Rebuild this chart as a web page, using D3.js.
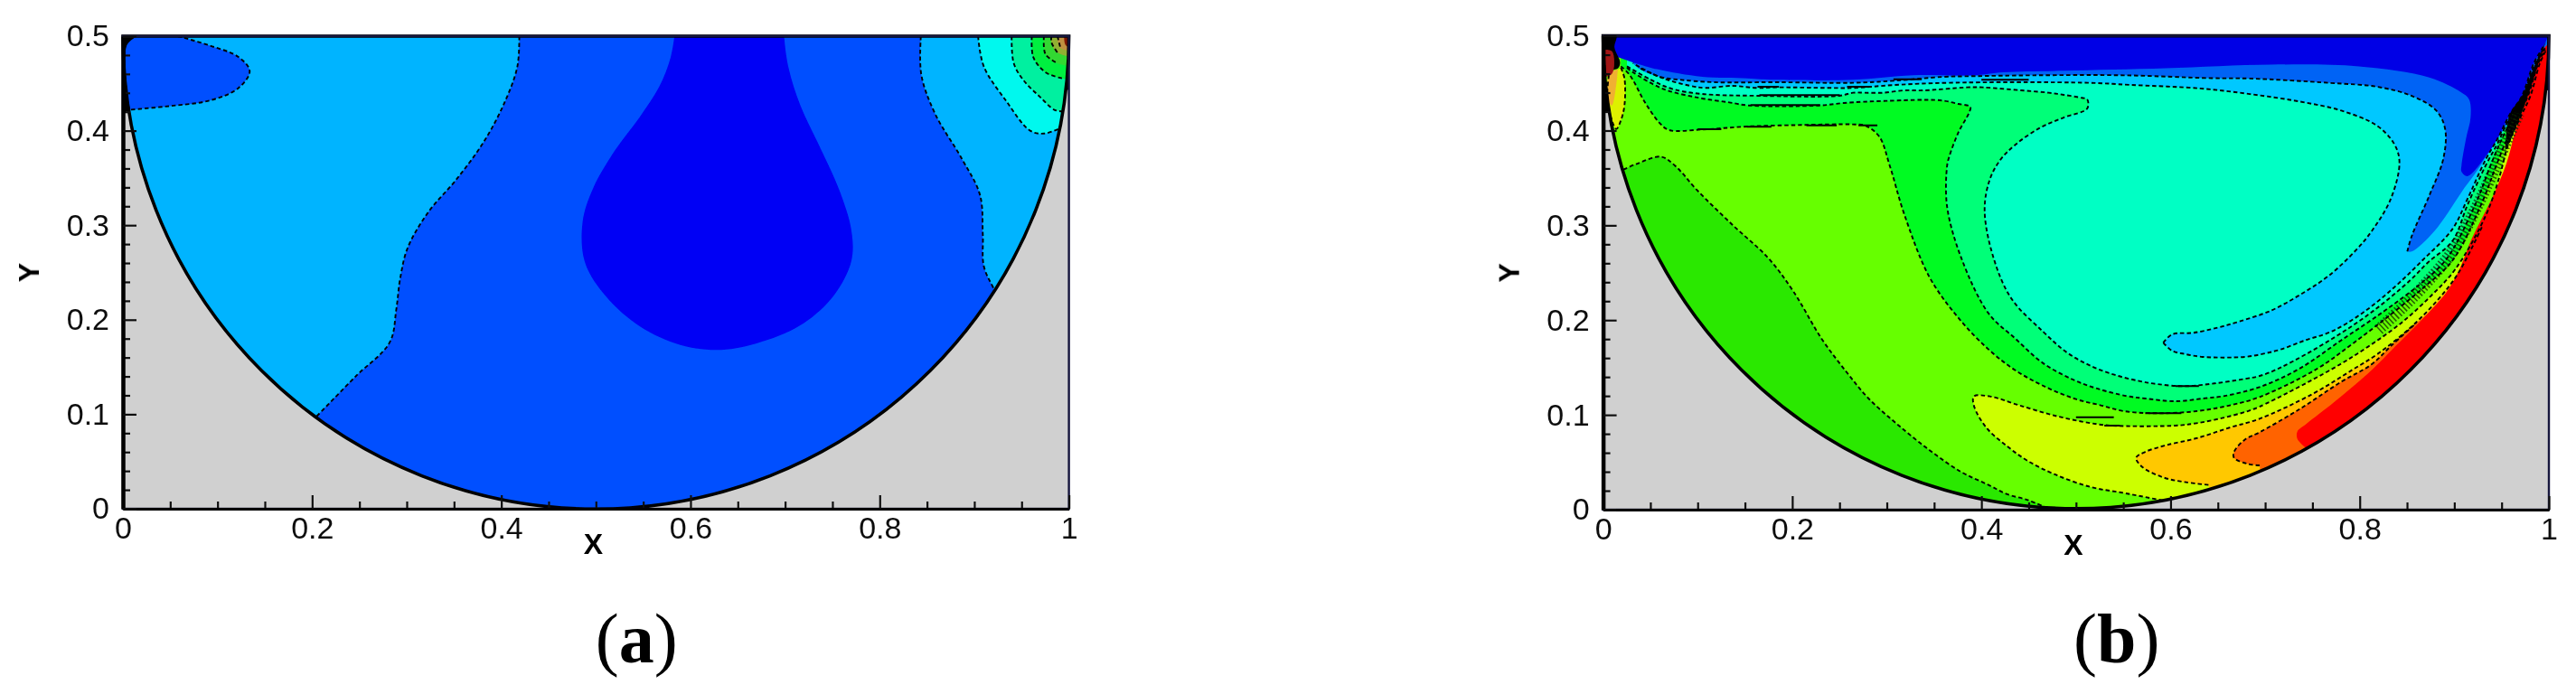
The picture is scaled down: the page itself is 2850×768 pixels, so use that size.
<!DOCTYPE html>
<html lang="en">
<head>
  <meta charset="UTF-8">
  <title>Contours</title>
  <style>
    html, body { margin: 0; background: #fff; }
    svg { display: block; }
    text { font-family: "Liberation Sans", sans-serif; }
  </style>
</head>
<body>
  <script src="https://d3js.org/d3.v7.min.js"></script>
  <script>
    const xTicks = [0, 0.2, 0.4, 0.6, 0.8, 1]
    const yTicks = [0, 0.1, 0.2, 0.3, 0.4, 0.5]
    const xMinor = [0.05, 0.1, 0.15, 0.25, 0.3, 0.35, 0.45, 0.5, 0.55, 0.65, 0.7, 0.75, 0.85, 0.9, 0.95]
    const yMinor = [0.02, 0.04, 0.06, 0.08, 0.12, 0.14, 0.16, 0.18, 0.22, 0.24, 0.26, 0.28, 0.32, 0.34, 0.36, 0.38, 0.42, 0.44, 0.46, 0.48]

    // panel (a) contours in x/y units
    const aLeftBlue = [[.419, .5], [.417, .468], [.404, .431], [.382, .389], [.353, .349], [.323, .314], [.301, .276], [.293, .243], [.289, .211], [.282, .176], [.246, .14], [.205, .098]]
    const aEllipse = [[.058, .5], [.092, .49], [.122, .478], [.134, .463], [.122, .445], [.092, .432], [.049, .426], [.006, .422]]
    const aDrop = [[.583, .5], [.579, .4775], [.567, .4466], [.546, .414], [.52, .379], [.497, .339], [.486, .304], [.488, .262], [.507, .229], [.542, .196], [.584, .175], [.627, .168], [.67, .175], [.716, .194], [.751, .225], [.77, .262], [.77, .295], [.757, .338], [.738, .38], [.716, .427], [.704, .465], [.699, .5]]
    const aRightBlue = [[.8435, .5], [.844, .459], [.859, .417], [.887, .37], [.906, .332], [.909, .29], [.91, .257], [.92, .234], [.94, .2]]
    const aCyan = [[.904, .5], [.91, .468], [.934, .431], [.959, .4], [.974, .397], [.9915, .403]]
    const aSea = [[.9395, .5], [.9417, .4713], [.9529, .4522], [.9688, .4363], [.9847, .422], [.9927, .4204]]
    const aGreen = [[.9608, .5], [.9624, .4777], [.9752, .4618], [.9927, .4554]]
    const aGreen2 = [[.9736, .5], [.9752, .4809], [.9879, .4713]]
    const aLime = [[.9815, .5], [.9815, .4936], [.9879, .4825]]
    const aOrange = [[.9879, .5], [.9911, .4873]]
    const aRed = [[.995, .5], [.997, .49]]
    const aCorner = [[0, .5], [.013, .5], [.004, .49], [.0045, .44], [.0065, .42], [0, .42]]
    const aWallLeft = [[0, .5], [.015, .5], [.015, .42], [0, .42]]
    const aWallRight = [[.985, .5], [1, .5], [1, .443], [.985, .443]]

    // panel (b) contours
    const bLime = [[.0216, .3588], [.0348, .3646], [.0612, .3724], [.0764, .3626], [.0991, .3374], [.1369, .3004], [.1747, .2654], [.2011, .2304], [.2314, .1798], [.2578, .1447], [.2805, .1175], [.3108, .0903], [.3448, .063], [.3788, .0397], [.4075, .0261], [.4266, .0165], [.4489, .0102], [.468, .0022]]
    const bYellow = [[.62, .004], [.5732, .0133], [.5477, .0181], [.5158, .0238], [.4776, .0372], [.4489, .0515], [.4266, .0674], [.4053, .0864], [.3921, .1097], [.3921, .1195], [.4091, .1195], [.4394, .1103], [.4776, .0992], [.5158, .0912], [.5381, .0887], [.605, .0887], [.6273, .0912], [.6544, .0966], [.6815, .1039], [.6942, .1087], [.7707, .1484], [.8089, .172], [.8439, .197], [.8758, .226], [.9013, .254], [.9331, .31], [.9474, .35], [.957, .3852], [.9697, .4138], [.9803, .4361], [.9905, .4711], [.9965, .4838]]
    const bGold = [[.6401, .0261], [.6146, .0292], [.5923, .034], [.57, .0451], [.5636, .0547], [.5732, .061], [.5954, .068], [.6273, .0753], [.6623, .0865], [.6942, .096], [.75, .122], [.793, .148], [.8185, .164], [.8535, .192], [.8822, .221], [.9045, .25], [.93, .3]]
    const bOrange = [[.6942, .0467], [.6815, .0483], [.6671, .0547], [.6672, .0611], [.6783, .0737], [.6942, .0817], [.736, .1058], [.7806, .135], [.8121, .153], [.8344, .174], [.8599, .197]]
    const bRed = [[.7434, .065], [.7341, .0747], [.7341, .0825], [.7434, .0903], [.7732, .1136], [.8121, .1469], [.8344, .1691], [.8662, .2009], [.8917, .2295], [.9045, .2517], [.9188, .2867], [.9395, .328], [.9554, .3662], [.965, .4011], [.9809, .4456], [.9936, .4854]]
    const bGreen = [[.0188, .4678], [.0284, .4583], [.0443, .4297], [.0602, .4075], [.0698, .4005], [.1048, .4011], [.1526, .4043], [.2099, .4059], [.2641, .4065], [.2767, .4054], [.2919, .3938], [.3032, .3626], [.3183, .3121], [.3448, .2459], [.375, .2031], [.4075, .1691], [.4362, .1468], [.468, .1294], [.4999, .1166], [.5254, .1103], [.5509, .1039], [.5891, .1017], [.6273, .1039], [.6592, .1093], [.6942, .1189], [.7547, .1485], [.793, .1755], [.8344, .2072], [.8694, .2359], [.8981, .2629], [.9283, .3217], [.9443, .363], [.9538, .3868], [.9666, .4138], [.9777, .4361], [.9889, .4711], [.9962, .4854]]
    const bSea = [[.0252, .4663], [.0316, .4615], [.0634, .444], [.1016, .4345], [.1335, .4297], [.1542, .4265], [.2291, .4265], [.2546, .4291], [.2991, .4313], [.3565, .4319], [.3756, .4281], [.3883, .4249], [.3868, .4186], [.3756, .3979], [.366, .3725], [.3637, .3626], [.3637, .3198], [.3788, .2654], [.4075, .2072], [.4362, .1802], [.4648, .1548], [.4967, .1373], [.5222, .1278], [.554, .1198], [.5732, .1173], [.605, .1144], [.6369, .1176], [.656, .1198], [.6942, .1294], [.7356, .1484], [.7802, .1786], [.8248, .2088], [.8631, .2374], [.8917, .2645], [.922, .3217], [.9395, .3662], [.949, .3884], [.9618, .4138], [.9745, .4361], [.9873, .4711], [.9959, .4869]]
    const bAqua = [[.0252, .4678], [.0507, .4535], [.073, .444], [.1048, .4386], [.1638, .4367], [.2498, .4367], [.2641, .4399], [.2768, .4399], [.296, .4399], [.3183, .4424], [.339, .4424], [.3852, .4456], [.4011, .4456], [.4425, .4424], [.4712, .4399], [.4871, .4377], [.5062, .4345], [.5119, .4329], [.5119, .4233], [.4871, .4138], [.4616, .4027], [.4361, .3852], [.4202, .3693], [.409, .3487], [.4034, .316], [.4129, .2654], [.4318, .2226], [.4648, .1882], [.4903, .1659], [.5158, .1516], [.5413, .1421], [.5668, .1357], [.5859, .1325], [.6146, .1303], [.6464, .1332], [.6783, .138], [.6942, .1411], [.7165, .15], [.7707, .1802], [.8153, .2104], [.8535, .2422], [.8726, .2613], [.8981, .2835], [.914, .3217], [.9331, .363], [.9459, .3868], [.9586, .4138], [.9713, .4329], [.9841, .4679], [.9952, .4869]]
    const bSkyLower = [[.5923, .1761], [.6018, .1675], [.6146, .1643], [.6337, .1612], [.6783, .1612], [.6974, .1643], [.7165, .1691], [.742, .1786], [.7707, .1882], [.8025, .2072], [.8344, .2327], [.8662, .2629], [.8981, .2962], [.914, .328], [.9331, .3693], [.9459, .3916], [.9586, .417], [.9713, .4361], [.9841, .4711], [.9952, .4901]]
    const bSkyInner = [[.5923, .1761], [.6018, .185], [.6241, .1866], [.6496, .192], [.6719, .1983], [.707, .2104], [.7388, .2279], [.7675, .247], [.7962, .274], [.8121, .2931], [.8327, .3276], [.842, .3665], [.8364, .386], [.8178, .4054], [.7806, .421], [.736, .4307], [.6839, .4385], [.6318, .4444], [.5575, .4482], [.5126, .4504], [.366, .4504], [.3087, .4481], [.2641, .445], [.2386, .445], [.1845, .4456], [.1622, .445], [.1367, .4472], [.108, .445], [.0921, .4472], [.0634, .4551], [.0379, .4663]]
    const bBlueLower = [[.8503, .2724], [.8551, .2724], [.879, .294], [.9076, .335], [.9331, .372]]
    const bBlueInner = [[.8503, .2724], [.855, .2887], [.8736, .3315], [.8884, .3704], [.8903, .4016], [.881, .421], [.855, .4366], [.8178, .4463], [.7694, .4502], [.6839, .4549], [.643, .4553], [.5508, .4583], [.4552, .4583], [.3915, .4574], [.3597, .4567], [.3087, .4526], [.2641, .4504], [.1845, .451], [.1176, .451], [.0825, .4535], [.0602, .4567], [.0316, .471]]
    const bNavy = [[.0252, .4742], [.057, .4647], [.1048, .4567], [.1526, .4551], [.1813, .4535], [.2641, .4535], [.3278, .4583], [.3915, .4583], [.4234, .4615], [.4871, .4631], [.5947, .4658], [.7062, .4696], [.7992, .4677], [.8736, .456], [.907, .4405], [.9156, .4329], [.9172, .4138], [.9124, .3916], [.9076, .363], [.9076, .3566], [.914, .3519], [.9331, .3725], [.9459, .3916], [.9586, .417], [.9713, .4361], [.9841, .4711], [.9952, .4901]]
    const bBlack = [[.9538, .3789], [.9586, .417], [.9713, .4361], [.9873, .4742], [.9968, .4933], [.9936, .4854], [.9809, .4456], [.9682, .4107], [.9586, .3884]]
    const bCornerBlack = [[0, .5], [.014, .5], [.012, .488], [.018, .472], [.016, .466], [.0061, .462], [.001, .45]]
    const bCornerYellow = [[.0188, .4663], [.0226, .4551], [.0226, .4265], [.0188, .4106], [.014, .4017], [.0093, .4106], [.0045, .4361], [.0061, .4583]]
    const bCornerGold = [[.0156, .4647], [.014, .4488], [.0093, .4265], [.0061, .4297], [.0045, .4519], [.0061, .4615]]
    const bCornerRed = [[.0013, .4853], [.0093, .4837], [.0118, .471], [.0093, .4599], [.0029, .4567]]
    const bWallLeft = [[0, .5], [.015, .5], [.015, .42], [0, .42]]
    const bWallRight = [[.985, .5], [1, .5], [1, .4425], [.985, .4425]]
    // middle of the packed band by the red edge, where the lines alias into cross bars
    const bHatch = [[.82, .19], [.8444, .2125], [.8662, .2345], [.8981, .2725], [.925, .322], [.9443, .364], [.957, .393], [.968, .418]]
    // long horizontal stretches where the thin lines look solid: x1, x2, y
    const bStripes = [[.1558, .2295, .4268], [.1652, .2503, .4374], [.1, .125, .4015], [.152, .178, .404], [.215, .247, .4055], [.27, .29, .4054], [.1633, .186, .4463], [.258, .284, .4463], [.307, .337, .4541], [.4, .45, .4535], [.5732, .6114, .1017], [.53, .546, .0887], [.605, .63, .1303], [.5, .54, .0975]]

    const width = 2850
    const height = 768
    const gray = '#d0d0d0'

    const svg = d3.select('body').append('svg')
      .attr('width', width)
      .attr('height', height)

    const defs = svg.append('defs')
    defs.append('filter').attr('id', 'soft')
      .append('feGaussianBlur').attr('stdDeviation', 0.7)

    const far = 1.02
    const panels = [
      {
        id: 'a', letter: 'a', xRange: [136, 1182.6], yRange: [563, 40],
        walls: [aWallLeft, aWallRight],
        base: '#0050ff',
        layers: [
          { pts: aLeftBlue.concat([[.1, -.02], [-.02, -.02], [-.02, .52], [.419, .52]]), fill: '#00b4ff' },
          { pts: aEllipse.concat([[-.02, .42], [-.02, .52], [.058, .52]]), fill: '#0050ff' },
          { pts: aDrop.concat([[.699, .52], [.583, .52]]), fill: '#0000f5' },
          { pts: aRightBlue.concat([[far, .2], [far, .52], [.8435, .52]]), fill: '#00b4ff' },
          { pts: aCyan.concat([[far, .41], [far, .52], [.904, .52]]), fill: '#00f8ee' },
          { pts: aSea.concat([[far, .42], [far, .52], [.9395, .52]]), fill: '#00f0a0' },
          { pts: aGreen.concat([[far, .455], [far, .52], [.9608, .52]]), fill: '#00f040' },
          { pts: aGreen2.concat([[far, .47], [far, .52], [.9736, .52]]), fill: '#30d830' },
          { pts: aLime.concat([[far, .48], [far, .52], [.9815, .52]]), fill: '#90b030' },
          { pts: aOrange.concat([[far, .487], [far, .52], [.9879, .52]]), fill: '#c09040' },
          { pts: aRed.concat([[far, .49], [far, .52], [.995, .52]]), fill: '#801800' },
          { pts: aCorner, fill: '#000' }
        ],
        lines: [aLeftBlue, aEllipse, aRightBlue, aCyan, aSea, aGreen, aGreen2, aLime, aOrange],
        hatch: [],
        stripes: []
      },
      {
        id: 'b', letter: 'b', xRange: [1773.6, 2820], yRange: [564, 39.6],
        walls: [bWallLeft, bWallRight],
        base: '#2ae800',
        layers: [
          { pts: bLime.concat([[.48, -.02], [far, -.02], [far, .52], [-.02, .52], [-.02, .35]]), fill: '#66ff00' },
          { pts: bYellow.concat([[far, .49], [far, -.02], [.62, -.02]]), fill: '#ccff00' },
          { pts: bGold.concat([[far, .49], [far, -.02], [.65, -.02]]), fill: '#ffc800' },
          { pts: bOrange.concat([[far, .3], [far, -.02], [.7, -.02]]), fill: '#ff6400' },
          { pts: bGreen.concat([[1, .52], [.0188, .52]]), fill: '#00fb20' },
          { pts: bSea.concat([[1, .52], [.0252, .52]]), fill: '#00ff78' },
          { pts: bAqua.concat([[1, .52], [.0252, .52]]), fill: '#00ffc4' },
          { pts: bSkyLower.concat([[1, .52], [.02, .52]], bSkyInner.slice().reverse()), fill: '#00c8ff' },
          { pts: bBlueLower.concat([[1, .52], [.02, .52]], bBlueInner.slice().reverse()), fill: '#0064f5' },
          { pts: bNavy.concat([[1, .52], [-.02, .52], [-.02, .49]]), fill: '#0000e6' },
          { pts: bRed.concat([[far, .5], [far, -.02], [.74, -.02]]), fill: '#ff0000' },
          { pts: bBlack, fill: '#000' },
          { pts: bCornerBlack, fill: '#000' },
          { pts: bCornerYellow, fill: '#ddf000' },
          { pts: bCornerGold, fill: '#f0b030' },
          { pts: bCornerRed, fill: '#a01818' }
        ],
        lines: [bLime, bYellow, bGold, bOrange, bGreen, bSea, bAqua, bSkyLower, bSkyInner, bBlueInner, bCornerYellow],
        hatch: [bHatch],
        stripes: bStripes
      }
    ]

    panels.forEach(p => {
      const x = d3.scaleLinear().domain([0, 1]).range(p.xRange)
      const y = d3.scaleLinear().domain([0, 0.5]).range(p.yRange)

      const g = svg.append('g').attr('filter', 'url(#soft)')

      const smooth = d3.line()
        .x(d => x(d[0]))
        .y(d => y(d[1]))
        .curve(d3.curveCatmullRom.alpha(0.5))
      const straight = d3.line()
        .x(d => x(d[0]))
        .y(d => y(d[1]))

      g.append('rect')
        .attr('x', x(0))
        .attr('y', y(0.5))
        .attr('width', x(1) - x(0))
        .attr('height', y(0) - y(0.5))
        .attr('fill', gray)

      g.selectAll('path.wall')
        .data(p.walls)
        .join('path')
        .attr('class', 'wall')
        .attr('d', d => straight(d) + 'Z')
        .attr('fill', '#000')

      // the half circle is the flow domain, everything is clipped to it
      const halfCircle = d3.arc()
        .innerRadius(0)
        .outerRadius(x(0.5) - x(0))
        .startAngle(Math.PI / 2)
        .endAngle(Math.PI * 1.5)
      const centre = `translate(${x(0.5)},${y(0.5)})`

      defs.append('clipPath').attr('id', 'domain-' + p.id)
        .append('path')
        .attr('d', halfCircle())
        .attr('transform', centre)

      const inside = g.append('g').attr('clip-path', `url(#domain-${p.id})`)

      inside.append('rect')
        .attr('x', x(0))
        .attr('y', y(0.5))
        .attr('width', x(1) - x(0))
        .attr('height', y(0) - y(0.5))
        .attr('fill', p.base)

      inside.selectAll('path.layer')
        .data(p.layers)
        .join('path')
        .attr('class', 'layer')
        .attr('d', d => smooth(d.pts) + 'Z')
        .attr('fill', d => d.fill)

      inside.selectAll('path.hatch')
        .data(p.hatch)
        .join('path')
        .attr('class', 'hatch')
        .attr('d', d => smooth(d))
        .attr('fill', 'none')
        .attr('stroke', '#0c2a08')
        .attr('stroke-width', 13)
        .attr('stroke-dasharray', '1.6 2.4')
        .attr('opacity', 0.75)

      inside.selectAll('path.contour')
        .data(p.lines)
        .join('path')
        .attr('class', 'contour')
        .attr('d', d => smooth(d))
        .attr('fill', 'none')
        .attr('stroke', '#000')
        .attr('stroke-width', 1.9)
        .attr('stroke-dasharray', '4.5 3')

      inside.selectAll('line.stripe')
        .data(p.stripes)
        .join('line')
        .attr('class', 'stripe')
        .attr('x1', d => x(d[0]))
        .attr('x2', d => x(d[1]))
        .attr('y1', d => y(d[2]))
        .attr('y2', d => y(d[2]))
        .attr('stroke', '#000')
        .attr('stroke-width', 2)

      g.append('path')
        .attr('d', halfCircle())
        .attr('transform', centre)
        .attr('fill', 'none')
        .attr('stroke', '#000')
        .attr('stroke-width', 3.6)

      // frame
      g.append('rect')
        .attr('x', x(0))
        .attr('y', y(0.5))
        .attr('width', x(1) - x(0))
        .attr('height', y(0) - y(0.5))
        .attr('fill', 'none')
        .attr('stroke', '#14143c')
        .attr('stroke-width', 2.4)

      const xMinorAxis = d3.axisBottom(x).tickValues(xMinor).tickSize(-8).tickFormat('').tickSizeOuter(0)
      const yMinorAxis = d3.axisLeft(y).tickValues(yMinor).tickSize(-8).tickFormat('').tickSizeOuter(0)
      const xAxis = d3.axisBottom(x).tickValues(xTicks).tickSize(-15).tickSizeOuter(0).tickPadding(9).tickFormat(d3.format('~g'))
      const yAxis = d3.axisLeft(y).tickValues(yTicks).tickSize(-15).tickSizeOuter(0).tickPadding(15).tickFormat(d3.format('~g'))

      g.append('g').attr('transform', `translate(0,${y(0)})`).call(xMinorAxis)
      g.append('g').attr('transform', `translate(${x(0)},0)`).call(yMinorAxis)
      const xg = g.append('g').attr('transform', `translate(0,${y(0)})`).call(xAxis)
      const yg = g.append('g').attr('transform', `translate(${x(0)},0)`).call(yAxis)

      xg.select('.domain').attr('stroke-width', 3).attr('stroke', '#000')
      yg.select('.domain').attr('stroke-width', 4.5).attr('stroke', '#000')
      svg.selectAll('.tick line').attr('stroke-width', 2.2).attr('stroke', '#111')

      g.selectAll('.tick text')
        .attr('font-family', '"Liberation Sans", sans-serif')
        .attr('font-size', 34)
        .attr('fill', '#111')

      g.append('text')
        .attr('x', x(0.5) - 3)
        .attr('y', y(0) + 50)
        .attr('text-anchor', 'middle')
        .attr('font-size', 32)
        .attr('font-weight', 'bold')
        .attr('fill', '#000')
        .text('X')

      g.append('text')
        .attr('transform', `translate(${x(0) - 93},${y(0.25)}) rotate(-90)`)
        .attr('text-anchor', 'middle')
        .attr('font-size', 32)
        .attr('font-weight', 'bold')
        .attr('fill', '#000')
        .text('Y')

      const label = svg.append('text')
        .attr('x', x(0.5) + 45)
        .attr('y', 733)
        .attr('text-anchor', 'middle')
        .attr('font-size', 78)
        .attr('fill', '#000')
        .style('font-family', '"Liberation Serif", serif')
      label.append('tspan').text('(')
      label.append('tspan').attr('font-weight', 'bold').text(p.letter)
      label.append('tspan').text(')')
    })
  </script>
</body>
</html>
